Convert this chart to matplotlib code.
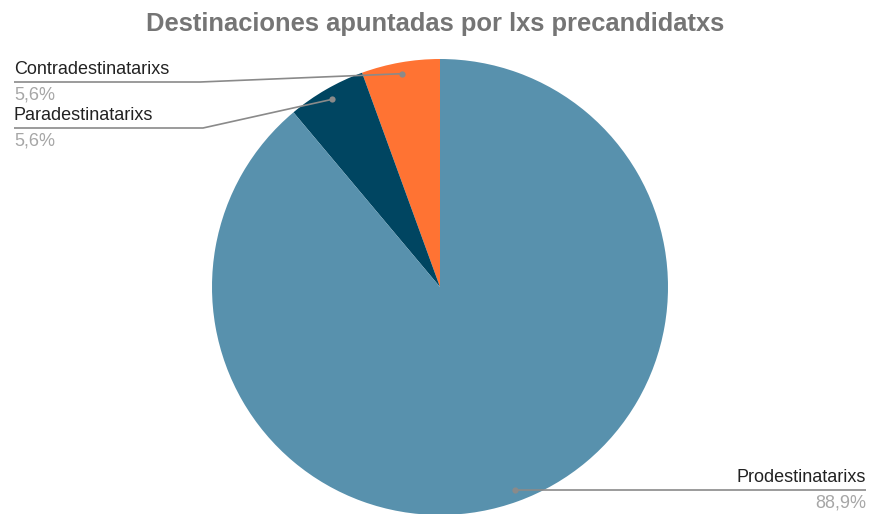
import numpy as np
import matplotlib
matplotlib.use("Agg")
import matplotlib.pyplot as plt

plt.rcParams['font.family'] = ['Liberation Sans', 'DejaVu Sans']

# --- data ---
categories = ["Contradestinatarixs", "Paradestinatarixs", "Prodestinatarixs"]
counts = [1, 1, 16]
pct_labels = ["5,6%", "5,6%", "88,9%"]
colors = ["#FF7333", "#004561", "#5891AD"]

W, H = 870, 514
fig = plt.figure(figsize=(W / 100, H / 100), dpi=100)
ax = fig.add_axes([0, 0, 1, 1])

cx, cy, r = 440, H - 287, 228
wedges, _ = ax.pie(counts, colors=colors, startangle=90, counterclock=True,
                   center=(cx, cy), radius=r, frame=True,
                   wedgeprops=dict(linewidth=0))
ax.set_xlim(0, W)
ax.set_ylim(0, H)
ax.set_aspect("equal")
ax.axis("off")

fig.text(0.5, 1 - 24 / H, "Destinaciones apuntadas por lxs precandidatxs",
         ha="center", va="center", fontsize=18.4, fontweight="bold",
         color="#757575")

# label layout: (text x, underline y, elbow x, ha, anchor angle override)
layout = [
    (14, H - 82, 200, "left", None),
    (14, H - 128, 203, "left", None),
    (866, H - 490, 515, "right", 290.3),
]
line_col = "#8a8a8a"
for w, name, pct, (tx, uy, ex, ha, ang) in zip(wedges, categories, pct_labels, layout):
    if ang is None:
        ang = (w.theta1 + w.theta2) / 2
    px = cx + 0.95 * r * np.cos(np.radians(ang))
    py = cy + 0.95 * r * np.sin(np.radians(ang))
    ax.plot([tx, ex, px], [uy, uy, py], color=line_col, lw=1.2, solid_capstyle="butt")
    ax.plot(px, py, "o", color=line_col, ms=4.5, mec="none")
    ax.text(tx, uy + 4, name, ha=ha, va="bottom", fontsize=13, color="#222222")
    ax.text(tx, uy - 4, pct, ha=ha, va="top", fontsize=13, color="#a6a6a6")

fig.savefig("out.png", dpi=100)
